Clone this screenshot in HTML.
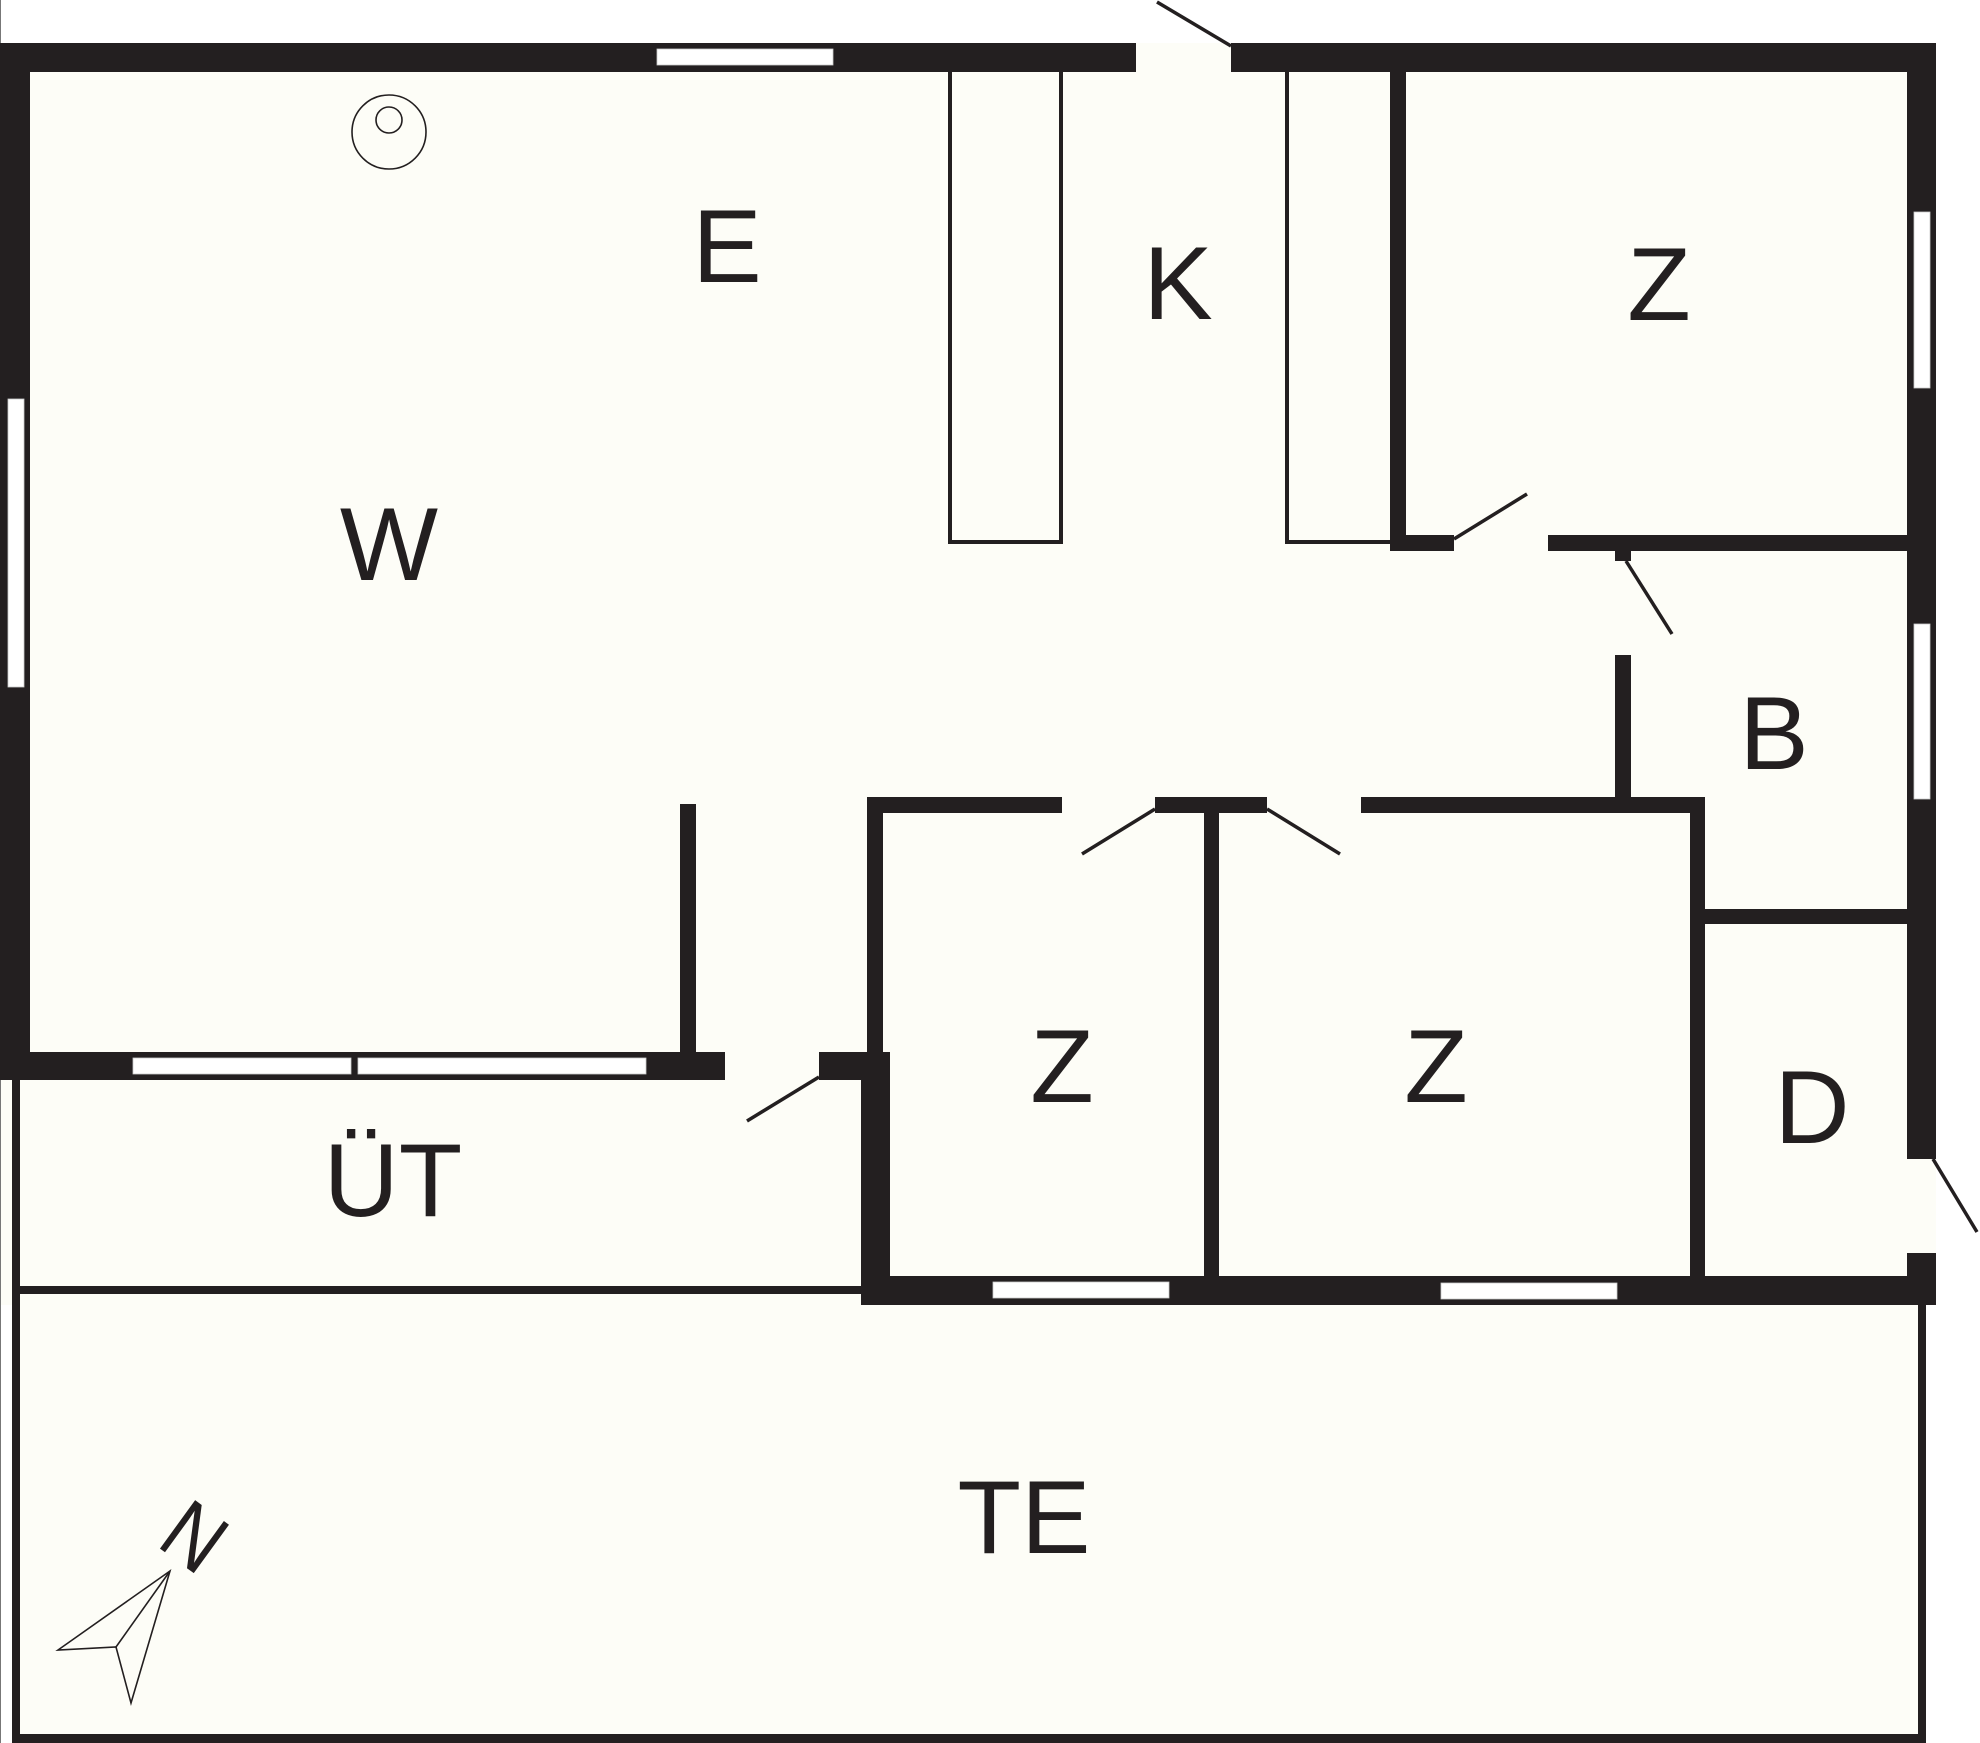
<!DOCTYPE html>
<html>
<head>
<meta charset="utf-8">
<style>
html,body{margin:0;padding:0;background:#fff;}
svg{display:block;}
text{font-family:"Liberation Sans",Arial,sans-serif;fill:#231f20;}
</style>
</head>
<body>
<svg width="1980" height="1743" viewBox="0 0 1980 1743" xmlns="http://www.w3.org/2000/svg">
<rect width="1980" height="1743" fill="#fff"/>
<!-- floor -->
<rect x="0" y="43" width="1936" height="1262" fill="#fdfdf7"/>
<rect x="12" y="1080" width="1914" height="663" fill="#fdfdf7"/>
<rect x="0" y="0" width="1" height="1743" fill="#777"/>

<g fill="#231f20">
  <!-- top wall -->
  <rect x="0" y="43" width="1136" height="29"/>
  <rect x="1231" y="43" width="705" height="29"/>
  <!-- left wall -->
  <rect x="0" y="43" width="30" height="1037"/>
  <!-- right wall -->
  <rect x="1907" y="43" width="29" height="1116"/>
  <rect x="1907" y="1253" width="29" height="52"/>
  <!-- K|Z wall -->
  <rect x="1390" y="72" width="16" height="479"/>
  <!-- Z bottom -->
  <rect x="1390" y="535" width="64" height="16"/>
  <rect x="1548" y="535" width="359" height="16"/>
  <!-- B left -->
  <rect x="1615" y="551" width="16" height="10"/>
  <rect x="1615" y="655" width="16" height="158"/>
  <!-- Z rooms top -->
  <rect x="867" y="797" width="195" height="16"/>
  <rect x="1155" y="797" width="112" height="16"/>
  <rect x="1361" y="797" width="344" height="16"/>
  <!-- right Z right wall -->
  <rect x="1690" y="797" width="15" height="508"/>
  <!-- B/D wall -->
  <rect x="1705" y="909" width="202" height="15"/>
  <!-- middle Z wall -->
  <rect x="1204" y="813" width="15" height="470"/>
  <!-- first Z left wall -->
  <rect x="867" y="797" width="16" height="255"/>
  <rect x="819" y="1052" width="71" height="28"/>
  <rect x="861" y="1080" width="29" height="225"/>
  <!-- bottom wall -->
  <rect x="861" y="1276" width="1075" height="29"/>
  <!-- W bottom wall -->
  <rect x="0" y="1052" width="725" height="28"/>
  <!-- W partition -->
  <rect x="680" y="804" width="16" height="248"/>
  <!-- UT / TE lines -->
  <rect x="12" y="1080" width="8" height="663"/>
  <rect x="12" y="1286" width="849" height="8"/>
  <rect x="1918" y="1305" width="8" height="438"/>
  <rect x="12" y="1734" width="1914" height="9"/>
</g>

<!-- windows -->
<g fill="#fff" stroke="#ccc" stroke-width="0.8">
  <rect x="657" y="49" width="176" height="16"/>
  <rect x="8" y="399" width="16" height="288"/>
  <rect x="1914" y="212" width="16" height="176"/>
  <rect x="1914" y="624" width="16" height="175"/>
  <rect x="133" y="1058" width="218" height="16"/>
  <rect x="358" y="1058" width="288" height="16"/>
  <rect x="993" y="1282" width="176" height="16"/>
  <rect x="1441" y="1283" width="176" height="16"/>
</g>

<!-- kitchen counters -->
<g fill="none" stroke="#231f20" stroke-width="4">
  <polyline points="950,72 950,542 1061,542 1061,72"/>
  <polyline points="1287,72 1287,542 1390,542"/>
</g>

<!-- doors -->
<g stroke="#231f20" stroke-width="3.5" stroke-linecap="butt">
  <line x1="1231" y1="46" x2="1157" y2="2"/>
  <line x1="1454" y1="539" x2="1527" y2="494"/>
  <line x1="1626" y1="561" x2="1672" y2="634"/>
  <line x1="1155" y1="809" x2="1082" y2="854"/>
  <line x1="1267" y1="809" x2="1340" y2="854"/>
  <line x1="819" y1="1077" x2="747" y2="1121"/>
  <line x1="1933" y1="1159" x2="1977" y2="1232"/>
</g>

<!-- circle fixture -->
<g fill="none" stroke="#231f20" stroke-width="1.6">
  <circle cx="389" cy="132" r="37"/>
  <circle cx="389" cy="120" r="13"/>
</g>

<!-- compass -->
<g fill="none" stroke="#231f20" stroke-width="1.6" stroke-linejoin="miter">
  <polygon points="170,1571 58,1650 116,1647 131,1703"/>
  <line x1="116" y1="1647" x2="170" y2="1571"/>
</g>
<text transform="translate(155,1545) rotate(36) scale(0.86,1)" font-size="87">N</text>

<!-- labels -->
<g font-size="104" text-anchor="middle">
  <text x="727" y="282">E</text>
  <text x="1178" y="319">K</text>
  <text x="1659" y="320">Z</text>
  <text x="389" y="580">W</text>
  <text x="1774" y="769">B</text>
  <text x="1812" y="1143">D</text>
  <text x="1062" y="1102">Z</text>
  <text x="1436" y="1102">Z</text>
  <text x="393" y="1216">ÜT</text>
  <text x="1024" y="1553">TE</text>
</g>
</svg>
</body>
</html>
